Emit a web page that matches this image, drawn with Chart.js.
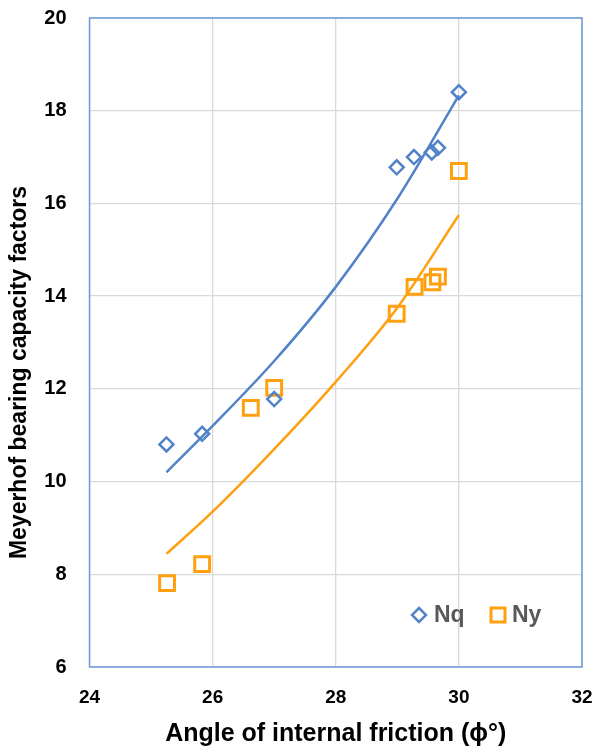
<!DOCTYPE html>
<html>
<head>
<meta charset="utf-8">
<script src="https://cdn.jsdelivr.net/npm/chart.js@4"></script>
<style>
  html, body { margin: 0; padding: 0; background: #fff; }
  #wrap { width: 597px; height: 752px; }
</style>
</head>
<body>
<div id="wrap"><canvas id="bcfChart" width="597" height="752"></canvas></div>
<script>
// measured points
const nqAngle = [25.25, 25.83, 27.0, 28.99, 29.27, 29.56, 29.66, 30.0];
const nqValue = [10.8, 11.03, 11.78, 16.78, 17.0, 17.1, 17.2, 18.4];
const nyAngle = [25.26, 25.83, 26.62, 27.0, 28.99, 29.28, 29.57, 29.66, 30.0];
const nyValue = [7.81, 8.22, 11.59, 12.02, 13.62, 14.2, 14.3, 14.42, 16.7];

// trendlines
const trendAngle = [25.25, 26, 27, 28, 29, 30];
const nqTrend = [10.2, 11.2, 12.6, 14.2, 16.1, 18.33];
const nyTrend = [8.44, 9.35, 10.7, 12.15, 13.75, 15.75];

const xTicks = [24, 26, 28, 30, 32];
const yTicks = [6, 8, 10, 12, 14, 16, 18, 20];
const yTitle = 'Meyerhof bearing capacity factors';

const blue = '#5282c8';
const orange = '#ffa010';
const font = '"Liberation Sans", Arial, sans-serif';

const pts = (xs, ys) => xs.map((x, i) => ({ x: x, y: ys[i] }));

// no extra room for tick labels hanging over the plot edges
const noOverhang = (s) => {
  s.paddingTop = 0; s.paddingBottom = 0; s.paddingLeft = 0; s.paddingRight = 0;
};

// blue frame round the plot, legend inside it, y title a bit lower than centre
const framePlugin = {
  id: 'frame',
  afterDraw(chart) {
    const { ctx, chartArea: a } = chart;
    ctx.save();
    ctx.strokeStyle = '#6d9ad8';
    ctx.lineWidth = 1.5;
    ctx.strokeRect(a.left, a.top, a.right - a.left, a.bottom - a.top);

    ctx.save();
    ctx.translate(20, a.top + (a.bottom - a.top) / 2 + 30);
    ctx.rotate(-Math.PI / 2);
    ctx.font = 'bold 23px ' + font;
    ctx.fillStyle = '#000';
    ctx.textAlign = 'center';
    ctx.textBaseline = 'middle';
    ctx.fillText(yTitle, 0, 0);
    ctx.restore();

    const ly = a.bottom - 52;
    ctx.font = 'bold 23px ' + font;
    ctx.textBaseline = 'middle';
    ctx.fillStyle = '#595959';
    // Nq diamond
    const dx = a.right - 163;
    ctx.strokeStyle = blue;
    ctx.lineWidth = 2.5;
    ctx.beginPath();
    ctx.moveTo(dx, ly - 7); ctx.lineTo(dx + 7, ly); ctx.lineTo(dx, ly + 7); ctx.lineTo(dx - 7, ly);
    ctx.closePath();
    ctx.stroke();
    ctx.fillText(chart.data.datasets[2].label, dx + 15, ly + 1);
    // Ny square
    const sx = a.right - 84;
    ctx.strokeStyle = orange;
    ctx.lineWidth = 3;
    ctx.strokeRect(sx - 7, ly - 7, 14, 14);
    ctx.fillText(chart.data.datasets[3].label, sx + 14, ly + 1);
    ctx.restore();
  }
};

const ctx = document.getElementById('bcfChart').getContext('2d');
const bcfChart = new Chart(ctx, {
  type: 'scatter',
  data: {
    datasets: [
      {
        label: 'Nq trend',
        data: pts(trendAngle, nqTrend),
        showLine: true,
        borderColor: blue,
        borderWidth: 2.5,
        pointRadius: 0,
        cubicInterpolationMode: 'monotone',
        order: 0
      },
      {
        label: 'Ny trend',
        data: pts(trendAngle, nyTrend),
        showLine: true,
        borderColor: orange,
        borderWidth: 2.5,
        pointRadius: 0,
        cubicInterpolationMode: 'monotone',
        order: 0
      },
      {
        label: 'Nq',
        data: pts(nqAngle, nqValue),
        pointStyle: 'rectRot',
        pointRadius: 7,
        pointBorderWidth: 2.5,
        borderColor: blue,
        backgroundColor: 'rgba(255,255,255,0)',
        order: 1
      },
      {
        label: 'Ny',
        data: pts(nyAngle, nyValue),
        pointStyle: 'rect',
        pointRadius: 10.5,
        pointBorderWidth: 3,
        borderColor: orange,
        backgroundColor: 'rgba(255,255,255,0)',
        order: 1
      }
    ]
  },
  options: {
    responsive: false,
    animation: false,
    layout: { padding: { top: 18, right: 15, left: 0, bottom: 0 } },
    plugins: {
      legend: { display: false },
      tooltip: { enabled: false }
    },
    scales: {
      x: {
        type: 'linear',
        min: 24,
        max: 32,
        afterBuildTicks: (s) => { s.ticks = xTicks.map(v => ({ value: v })); },
        afterFit: (s) => { s.height = 85; noOverhang(s); },
        grid: { color: '#d9d9d9', lineWidth: 1.3, drawTicks: false },
        border: { display: false },
        ticks: {
          padding: 19,
          color: '#000',
          font: { family: font, size: 19, weight: 'bold' }
        },
        title: {
          display: true,
          text: 'Angle of internal friction (ϕ°)',
          color: '#000',
          padding: { top: 0, bottom: 3 },
          font: { family: font, size: 25, weight: 'bold' }
        }
      },
      y: {
        type: 'linear',
        min: 6,
        max: 20,
        afterBuildTicks: (s) => { s.ticks = yTicks.map(v => ({ value: v })); },
        afterFit: (s) => { s.width = 89.5; noOverhang(s); },
        grid: { color: '#d9d9d9', lineWidth: 1.3, drawTicks: false },
        border: { display: false },
        ticks: {
          padding: 23,
          color: '#000',
          font: { family: font, size: 20, weight: 'bold' }
        },
        title: { display: false }
      }
    }
  },
  plugins: [framePlugin]
});
</script>
</body>
</html>
